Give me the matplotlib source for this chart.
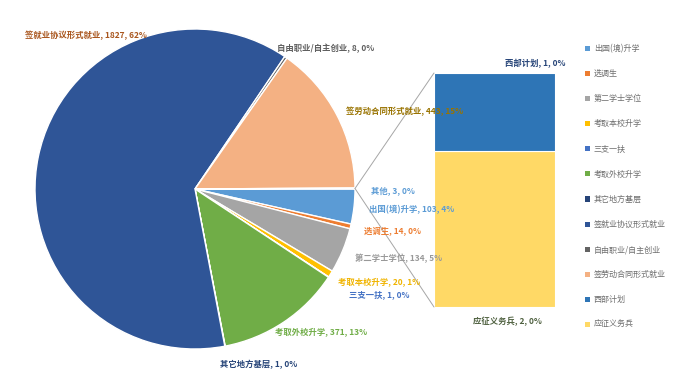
import matplotlib
matplotlib.use('Agg')
import numpy as np
import matplotlib.pyplot as plt
from matplotlib.patches import Patch, ConnectionPatch

plt.rcParams['font.family'] = ['Noto Sans CJK SC', 'DejaVu Sans']

# data (order as in the legend)
categories = ['出国(境)升学', '选调生', '第二学士学位', '考取本校升学', '三支一扶',
              '考取外校升学', '其它地方基层', '签就业协议形式就业', '自由职业/自主创业',
              '签劳动合同形式就业', '西部计划', '应征义务兵']
values = [103, 14, 134, 20, 1, 371, 1, 1827, 8, 443, 1, 2]
n_secondary = 2          # last two go into the "其他" bar
other_label = '其他'

colors = ['#5B9BD5', '#ED7D31', '#A5A5A5', '#FFC000', '#4472C4', '#70AD47',
          '#264478', '#2F5597', '#636363', '#F4B183', '#2E75B6', '#FFD966']
label_colors = ['#5B9BD5', '#ED7D31', '#999999', '#F0B400', '#4472C4', '#70AD47',
                '#264478', '#A9561E', '#5F5F5F', '#997300', '#264478', '#4F6140']
other_color = '#5B9BD5'

# label anchor positions in pixels (left edge, vertical centre), Excel-style manual placement
label_pos = {
    '出国(境)升学': (369, 210), '选调生': (364, 232), '第二学士学位': (355, 258),
    '考取本校升学': (338, 283), '三支一扶': (349, 295), '考取外校升学': (275, 333),
    '其它地方基层': (220, 364), '签就业协议形式就业': (25, 35),
    '自由职业/自主创业': (277, 48), '签劳动合同形式就业': (346, 111),
    '西部计划': (505, 63), '应征义务兵': (473, 321), other_label: (371, 191),
}

W, H = 689, 383
total = sum(values)
main_vals = values[:-n_secondary] + [sum(values[-n_secondary:])]
main_cols = colors[:-n_secondary] + [other_color]

fig = plt.figure(figsize=(W / 100, H / 100), dpi=100)

# pie
ax = fig.add_axes([35 / W, (H - 349) / H, 320 / W, 320 / H])
wedges, _ = ax.pie(main_vals, colors=main_cols, startangle=0, counterclock=False,
                   wedgeprops=dict(edgecolor='white', linewidth=1))
ax.set_xlim(-1, 1)
ax.set_ylim(-1, 1)
ax.set_aspect('equal')

# bar of the "其他" slice
bax = fig.add_axes([434 / W, (H - 307) / H, 121 / W, 234 / H])
bax.patch.set_alpha(0)
bottom = 0
for name, val, col in zip(categories[-n_secondary:][::-1], values[-n_secondary:][::-1],
                          colors[-n_secondary:][::-1]):
    bax.bar(0, val, width=1, bottom=bottom, color=col, edgecolor='white', linewidth=0.8)
    bottom += val
bax.set_xlim(-0.5, 0.5)
bax.set_ylim(0, bottom)
bax.axis('off')

# connector lines
w = wedges[-1]
mid = np.deg2rad((w.theta1 + w.theta2) / 2)
for yb in (0, bottom):
    con = ConnectionPatch(xyA=(np.cos(mid), np.sin(mid)), coordsA=ax.transData,
                          xyB=(-0.5, yb), coordsB=bax.transData,
                          color='#A6A6A6', linewidth=0.7)
    fig.add_artist(con)


def put_label(name, val, col):
    px, py = label_pos[name]
    pct = round(val / total * 100)
    fig.text(px / W, 1 - py / H, f'{name}, {val}, {pct}%',
             ha='left', va='center', fontsize=6, fontweight='bold', color=col)


for name, val, col in zip(categories, values, label_colors):
    put_label(name, val, col)
put_label(other_label, main_vals[-1], other_color)

# legend
handles = [Patch(facecolor=c, edgecolor='none') for c in colors]
fig.legend(handles, categories, loc='upper left', bbox_to_anchor=(581 / W, 1 - 40 / H),
           frameon=False, fontsize=5.8, labelcolor='#6E6E6E', handlelength=0.6,
           handleheight=0.6, handletextpad=0.5, labelspacing=2.0, borderpad=0)

fig.savefig('out.png', dpi=100, facecolor='white')
